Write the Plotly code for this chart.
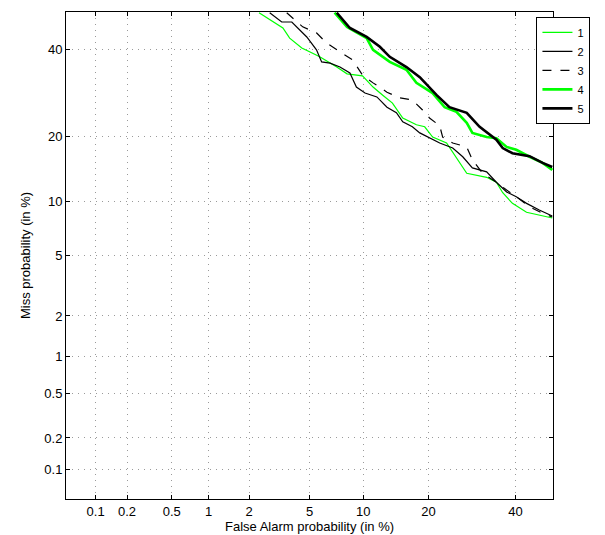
import plotly.graph_objects as go
from statistics import NormalDist

# DET curves, values in percent (false alarm, miss)
fa_1 = [2.35, 2.9, 3.4, 3.76, 4.48, 5.0, 5.75, 7.2, 8.2, 9.9, 11.2, 12.5, 13.9, 15.5, 17.8, 19.3, 20.8,
        23.6, 26.4, 28.0, 32.7, 35.1, 36.7, 39.2, 42.9, 46.3, 49.8]
miss_1 = [49.8, 47.4, 45.7, 43.0, 40.4, 39.4, 38.1, 35.5, 33.8, 33.3, 30.6, 28.7, 26.9, 23.7, 22.3, 21.9, 19.9,
          18.8, 15.4, 13.8, 13.2, 12.5, 11.1, 9.8, 8.8, 8.5, 8.2]

fa_2 = [2.78, 3.34, 3.88, 4.81, 5.5, 5.9, 6.6, 7.5, 8.5, 9.2, 10.2, 11.7, 13.1, 14.5, 15.5, 17.1, 18.4, 20.2,
        22.2, 24.9, 27.1, 29.3, 32.7, 35.1, 37.7, 40.2, 42.9, 46.3, 49.8]
miss_2 = [49.8, 47.3, 47.3, 43.3, 39.9, 36.8, 36.5, 35.5, 34.0, 30.6, 29.2, 28.3, 26.0, 24.8, 22.9, 21.9, 20.7,
          19.7, 18.8, 17.9, 16.4, 14.6, 14.0, 12.5, 11.2, 10.6, 9.8, 9.05, 8.4]

fa_3 = [3.6, 4.54, 5.5, 6.3, 7.5, 8.8, 9.9, 11.2, 13.1, 15.0, 17.1, 18.9, 20.2, 22.2, 22.8, 24.9, 28.0, 29.3,
        31.7, 35.1, 37.7, 40.2, 43.7, 47.2, 49.8]
miss_3 = [49.8, 46.0, 44.4, 41.7, 39.4, 37.3, 33.5, 31.6, 29.4, 28.1, 27.6, 25.4, 23.7, 22.1, 19.9, 18.8, 18.1,
          15.9, 13.8, 12.5, 11.45, 10.6, 9.4, 8.7, 8.3]

fa_4 = [7.0, 8.2, 10.4, 11.2, 13.5, 16.1, 17.8, 20.8, 23.2, 25.7, 28.0, 29.3, 32.7, 35.1, 37.7, 40.2, 43.7,
        47.2, 49.8]
miss_4 = [49.8, 46.0, 43.0, 39.9, 36.8, 34.8, 31.6, 29.2, 26.0, 25.0, 22.7, 20.7, 19.9, 19.7, 18.1, 17.6, 16.4,
          15.4, 14.3]

fa_5 = [7.2, 8.5, 10.4, 12.1, 13.5, 16.1, 18.4, 21.6, 24.2, 28.0, 31.0, 35.1, 36.7, 39.2, 43.7, 47.2, 49.8]
miss_5 = [49.8, 45.7, 43.3, 40.7, 38.1, 35.5, 33.0, 28.7, 26.0, 24.8, 21.9, 19.4, 17.9, 17.0, 16.5, 15.4, 14.75]

tick_pct = [0.1, 0.2, 0.5, 1, 2, 5, 10, 20, 40]
tick_txt = ['0.1', '0.2', '0.5', '1', '2', '5', '10', '20', '40']

nd = NormalDist()


def probit(vals):
    return [nd.inv_cdf(v / 100.0) for v in vals]


GREEN = '#00ff00'
series = [
    ('1', fa_1, miss_1, GREEN, 1.2, 'solid'),
    ('2', fa_2, miss_2, 'black', 1.2, 'solid'),
    ('3', fa_3, miss_3, 'black', 1.2, 'dash'),
    ('4', fa_4, miss_4, GREEN, 2.6, 'solid'),
    ('5', fa_5, miss_5, 'black', 2.6, 'solid'),
]

fig = go.Figure()
for name, fa, miss, col, w, dash in series:
    fig.add_trace(go.Scatter(x=probit(fa), y=probit(miss), mode='lines', name=name,
                             line=dict(color=col, width=w, dash=dash)))

lim = [nd.inv_cdf(0.0005), 0.0]
axis_style = dict(range=lim, tickvals=probit(tick_pct), ticktext=tick_txt, automargin=False,
                  showgrid=True, gridcolor='#9a9a9a', griddash='1px,5px', gridwidth=1,
                  showline=True, linecolor='black', linewidth=1, mirror='ticks',
                  ticks='inside', ticklen=4, tickcolor='black', zeroline=False,
                  tickfont=dict(size=13, color='black'))

fig.update_xaxes(title=dict(text='False Alarm probability (in %)', font=dict(size=13, color='black'), standoff=0),
                 **axis_style)
fig.update_yaxes(title=dict(text='Miss probability (in %)', font=dict(size=13, color='black'), standoff=10),
                 **axis_style)

# page body adds an 8px margin, so the figure is drawn 8px smaller on the left/top
fig.update_layout(
    width=597, height=527,
    margin=dict(l=58, r=52, t=4, b=36, autoexpand=False),
    plot_bgcolor='white', paper_bgcolor='white',
    font=dict(family='Liberation Sans, Arial, sans-serif', size=13, color='black'),
    legend=dict(x=0.966, y=0.99, xanchor='left', yanchor='top', bgcolor='white',
                bordercolor='black', borderwidth=1, font=dict(size=11),
                tracegroupgap=0, itemwidth=30),
    showlegend=True,
)

fig.write_html("out.html")
